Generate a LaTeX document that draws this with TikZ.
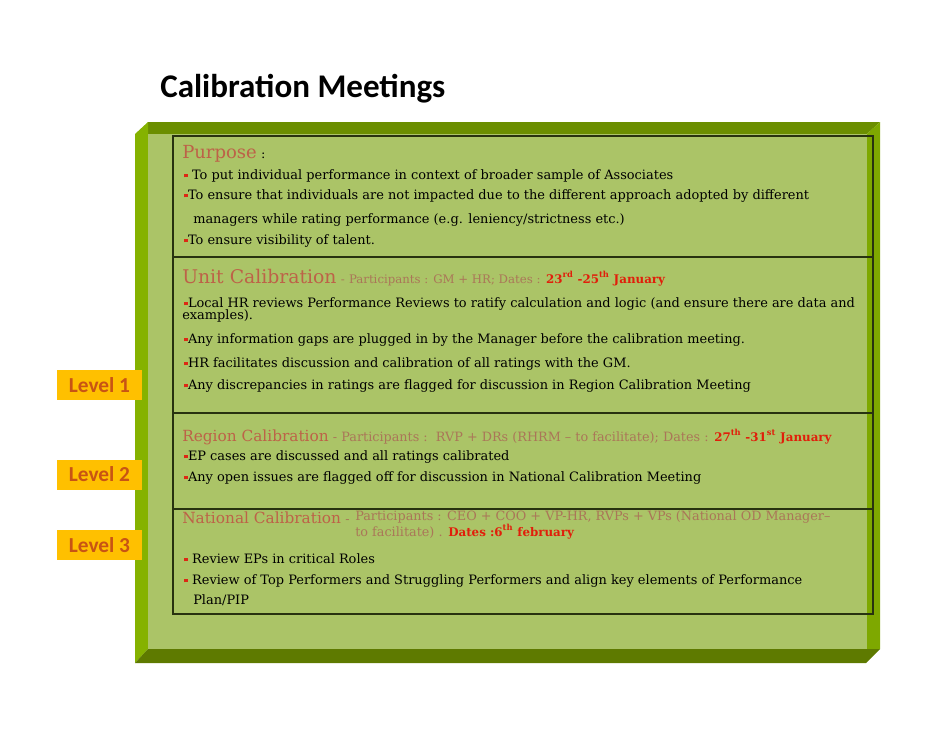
\documentclass[tikz,border=0pt]{standalone}
\usepackage{fontspec}
\setmainfont{DejaVu Serif}
\newfontfamily\calibfont{Carlito}
\usetikzlibrary{positioning}
\definecolor{facegreen}{RGB}{171,196,103}
\definecolor{topgreen}{RGB}{107,142,0}
\definecolor{leftgreen}{RGB}{133,178,0}
\definecolor{rightgreen}{RGB}{126,168,0}
\definecolor{botgreen}{RGB}{94,122,0}
\definecolor{rulecol}{RGB}{40,50,16}
\definecolor{headbrown}{RGB}{189,98,72}
\definecolor{partbrown}{RGB}{170,118,88}
\definecolor{datered}{RGB}{225,30,10}
\definecolor{bulletred}{RGB}{220,40,20}
\definecolor{levelfill}{RGB}{255,192,0}
\definecolor{leveltext}{RGB}{200,84,20}
\newcommand{\hf}[1][13.5]{\color{headbrown}\fontsize{#1}{16}\selectfont}
\newcommand{\pf}[1][8.8]{\color{partbrown}\fontsize{#1}{11}\selectfont}
\newcommand{\df}{\color{datered}\bfseries\fontsize{8.9}{11}\selectfont}
\newcommand{\sqb}{\textcolor{bulletred}{\rule[0.25ex]{2.8pt}{2.8pt}}}
\tikzset{
	line/.style={anchor=base west,inner sep=0pt,font=\fontsize{9.7}{12}\selectfont},
	head/.style={anchor=base west,inner sep=0pt},
	rule/.style={draw=rulecol,line width=1.1pt},
	level/.style={fill=levelfill,minimum width=63.75pt,minimum height=22.5pt,inner sep=0pt,
		text=leveltext,font=\calibfont\bfseries\fontsize{16}{18}\selectfont}
}
\begin{document}
\begin{tikzpicture}[x=0.75pt,y=-0.75pt]
	\useasboundingbox (0,0) rectangle (942,728);
	% bevelled frame
	\fill[topgreen] (148,122) -- (880,122) -- (867,134) -- (148,134) -- cycle;
	\fill[leftgreen] (135,134) -- (148,122) -- (148,649) -- (135,663) -- cycle;
	\fill[rightgreen] (867,134) -- (880,122) -- (880,649) -- (867,649) -- cycle;
	\fill[botgreen] (148,649) -- (880,649) -- (866,663) -- (135,663) -- cycle;
	\fill[facegreen] (148,134) rectangle (867,649);
	% table
	\coordinate (tl) at (173,136);
	\coordinate (br) at (873,614);
	\draw[rule] (tl) rectangle (br);
	\draw[rule] (173,257) -- (873,257);
	\draw[rule] (173,413) -- (873,413);
	\draw[rule] (173,509) -- (873,509);
	\node[head] (title) at (160,97) {\calibfont\bfseries\fontsize{24.8}{28}\selectfont Calibration Meetings};
	% purpose
	\node[head] (purp) at (182,158) {{\hf Purpose} {\fontsize{9.7}{12}\selectfont :}};
	\node[line] (p1) at (184,179) {\sqb\ To put individual performance in context of broader sample of Associates};
	\node[line] (p2) at (184,199) {\sqb To ensure that individuals are not impacted due to the different approach adopted by different};
	\node[line] (p3) at (193,223) {managers while rating performance (e.g. leniency/strictness etc.)};
	\node[line] (p4) at (184,244) {\sqb To ensure visibility of talent.};
	% unit
	\node[head] (unit) at (182,283) {{\hf[14.1]Unit Calibration} {\color{datered}\pf -} {\pf Participants : GM + HR; Dates :} {\df 23\textsuperscript{rd} -25\textsuperscript{th} January}};
	\node[line] (u1) at (184,307) {\sqb Local HR reviews Performance Reviews to ratify calculation and logic (and ensure there are data and};
	\node[line] (u1b) at (182,319) {examples).};
	\node[line] (u2) at (184,343) {\sqb Any information gaps are plugged in by the Manager before the calibration meeting.};
	\node[line] (u3) at (184,367) {\sqb HR facilitates discussion and calibration of all ratings with the GM.};
	\node[line] (u4) at (184,389) {\sqb Any discrepancies in ratings are flagged for discussion in Region Calibration Meeting};
	% region
	\node[head] (region) at (182,441) {{\hf[11.5]Region Calibration} {\pf[9.6]- Participants :\ \ RVP + DRs (RHRM – to facilitate); Dates :} {\df 27\textsuperscript{th} -31\textsuperscript{st} January}};
	\node[line] (r1) at (184,460) {\sqb EP cases are discussed and all ratings calibrated};
	\node[line] (r2) at (184,481) {\sqb Any open issues are flagged off for discussion in National Calibration Meeting};
	% national
	\node[head] (nat) at (182,523) {{\hf[11.5]National Calibration} {\pf[9.6]-}};
	\node[head] (natp1) at (355,520) {\pf[9.6]Participants : CEO + COO + VP-HR, RVPs + VPs (National OD Manager–};
	\node[head] (natp2) at (355,536) {{\pf[9.6]to facilitate) .} {\df Dates :6\textsuperscript{th} february}};
	\node[line] (n1) at (184,563) {\sqb\ Review EPs in critical Roles};
	\node[line] (n2) at (184,584) {\sqb\ Review of Top Performers and Struggling Performers and align key elements of Performance};
	\node[line] (n3) at (193,604) {Plan/PIP};
	% levels
	\node[level] (lvl1) at (99.5,385) {Level 1};
	\node[level] (lvl2) at (99.5,474.5) {Level 2};
	\node[level] (lvl3) at (99.5,545) {Level 3};
\end{tikzpicture}
\end{document}
